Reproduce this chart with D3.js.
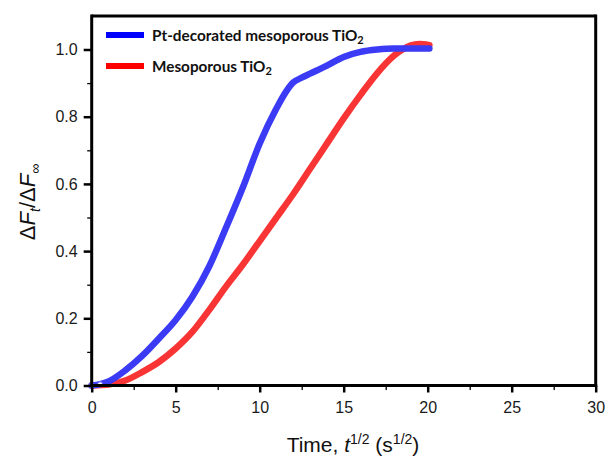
<!DOCTYPE html>
<html>
<head>
<meta charset="utf-8">
<script src="https://cdn.jsdelivr.net/npm/d3@7"></script>
<style>
  html, body { margin: 0; padding: 0; background: #fff; }
  svg { display: block; }
</style>
</head>
<body>
<script>
// Normalised uptake ΔF_t/ΔF_∞ against square-root time
const timeRoot = [0, 0.5, 1, 2, 3, 4, 5, 6, 7, 8, 9, 10, 11, 11.6, 12, 12.5, 13, 14, 15, 16, 17, 18, 19, 20.1];
const ptTiO2   = [0, 0.004, 0.012, 0.045, 0.088, 0.14, 0.195, 0.265, 0.355, 0.47, 0.59, 0.72, 0.825, 0.877, 0.902, 0.916, 0.928, 0.952, 0.978, 0.993, 1.0, 1.003, 1.003, 1.003];

const timeRootMeso = [0, 1, 2, 3, 4, 5, 6, 7, 8, 9, 10, 11, 12, 13, 14, 15, 16, 17, 18, 18.5, 19, 19.5, 20.1];
const mesoTiO2     = [0, 0.003, 0.015, 0.04, 0.07, 0.11, 0.16, 0.225, 0.295, 0.36, 0.43, 0.5, 0.57, 0.645, 0.72, 0.795, 0.865, 0.93, 0.982, 1.0, 1.012, 1.016, 1.013];

const xTicks = [0, 5, 10, 15, 20, 25, 30];
const xMinor = [2.5, 7.5, 12.5, 17.5, 22.5, 27.5];
const yTicks = [0, 0.2, 0.4, 0.6, 0.8, 1.0];
const yMinor = [0.1, 0.3, 0.5, 0.7, 0.9];

const seriesNames = ["Pt-decorated mesoporous TiO", "Mesoporous TiO"];

const W = 606, H = 457;
const svg = d3.select("body").append("svg").attr("width", W).attr("height", H);

const x = d3.scaleLinear().domain([0, 30]).range([91.7, 595.7]);
const y = d3.scaleLinear().domain([0, 1.1]).range([385.5, 15.9]);

const tickFont = "'Liberation Sans', Arial, sans-serif";

// Curves
const line = d3.line().x(d => x(d[0])).y(d => y(d[1])).curve(d3.curveMonotoneX);
const blueData = timeRoot.map((t, i) => [t, ptTiO2[i]]);
const redData = timeRootMeso.map((t, i) => [t, mesoTiO2[i]]);

svg.append("path").datum(redData).attr("d", line)
  .attr("fill", "none").attr("stroke", "#f83434").attr("stroke-width", 6.5)
  .attr("stroke-linejoin", "round").attr("stroke-linecap", "round");
svg.append("path").datum(blueData).attr("d", line)
  .attr("fill", "none").attr("stroke", "#3b3bf6").attr("stroke-width", 6.5)
  .attr("stroke-linejoin", "round").attr("stroke-linecap", "round");

// open markers at the start of the Pt-decorated series
svg.selectAll("circle.start").data(blueData.filter(d => d[0] <= 0.5)).enter()
  .append("circle").attr("class", "start")
  .attr("cx", d => x(d[0])).attr("cy", d => y(d[1])).attr("r", 2.6)
  .attr("fill", "#fff").attr("stroke", "#5a5aff").attr("stroke-width", 1.2);

// Frame: top and right edges
svg.append("line").attr("x1", x(0)).attr("x2", x(30)).attr("y1", y(1.1)).attr("y2", y(1.1))
  .attr("stroke", "#000").attr("stroke-width", 3);
svg.append("line").attr("x1", x(30)).attr("x2", x(30)).attr("y1", y(1.1) - 1.5).attr("y2", y(0))
  .attr("stroke", "#000").attr("stroke-width", 3);

// X axis
const xAxis = svg.append("g").attr("transform", `translate(0,${y(0)})`)
  .call(d3.axisBottom(x).tickValues(xTicks).tickSize(7).tickPadding(9.5).tickFormat(d3.format("d")));
xAxis.select(".domain").attr("stroke-width", 3).attr("d", `M${x(0) - 1.5},0H${x(30) + 1.5}`);
xAxis.selectAll(".tick line").attr("stroke-width", 2.5);
xAxis.selectAll("text").attr("font-family", tickFont).attr("font-size", 16).attr("fill", "#1a1a1a");
svg.append("g").attr("transform", `translate(0,${y(0)})`)
  .call(d3.axisBottom(x).tickValues(xMinor).tickSize(4.5).tickFormat(""))
  .call(g => g.select(".domain").remove())
  .selectAll(".tick line").attr("stroke-width", 1.3);

// Y axis
const yAxis = svg.append("g").attr("transform", `translate(${x(0)},0)`)
  .call(d3.axisLeft(y).tickValues(yTicks).tickSize(8).tickPadding(6).tickFormat(d3.format(".1f")));
yAxis.select(".domain").attr("stroke-width", 3).attr("d", `M0,${y(1.1) - 1.5}V${y(0) + 1.5}`);
yAxis.selectAll(".tick line").attr("stroke-width", 2.5);
yAxis.selectAll("text").attr("font-family", tickFont).attr("font-size", 16).attr("fill", "#1a1a1a");
svg.append("g").attr("transform", `translate(${x(0)},0)`)
  .call(d3.axisLeft(y).tickValues(yMinor).tickSize(4.5).tickFormat(""))
  .call(g => g.select(".domain").remove())
  .selectAll(".tick line").attr("stroke-width", 1.3);

// X axis title
const xt = svg.append("text").attr("x", 353).attr("y", 452)
  .attr("text-anchor", "middle").attr("font-family", tickFont).attr("font-size", 21).attr("fill", "#111");
xt.append("tspan").text("Time, ");
xt.append("tspan").attr("font-style", "italic").text("t");
xt.append("tspan").attr("font-size", 14).attr("dy", -8).text("1/2");
xt.append("tspan").attr("dy", 8).text(" (s");
xt.append("tspan").attr("font-size", 14).attr("dy", -8).text("1/2");
xt.append("tspan").attr("dy", 8).text(")");

// Y axis title
const yt = svg.append("text").attr("transform", "translate(35,202) rotate(-90)")
  .attr("text-anchor", "middle").attr("font-family", tickFont).attr("font-size", 22).attr("fill", "#111");
yt.append("tspan").text("Δ");
yt.append("tspan").attr("font-style", "italic").text("F");
yt.append("tspan").attr("font-style", "italic").attr("font-size", 14).attr("dy", 5).text("t");
yt.append("tspan").attr("dy", -5).text("/Δ");
yt.append("tspan").attr("font-style", "italic").text("F");
yt.append("tspan").attr("font-size", 14).attr("dy", 5).text("∞");

// Legend
const legendColors = ["#0000ff", "#ff0000"];
const legendFont = "Lato, 'Open Sans', sans-serif";
seriesNames.forEach((name, i) => {
  const ly = 35 + i * 31;
  svg.append("line").attr("x1", 106).attr("x2", 144).attr("y1", ly).attr("y2", ly)
    .attr("stroke", legendColors[i]).attr("stroke-width", 6);
  const t = svg.append("text").attr("x", 152).attr("y", ly + 5.5)
    .attr("font-family", legendFont).attr("font-weight", "bold").attr("font-size", 15.3).attr("fill", "#111");
  t.append("tspan").text(name);
  t.append("tspan").attr("font-size", 11).attr("dy", 3).text("2");
});
</script>
</body>
</html>
